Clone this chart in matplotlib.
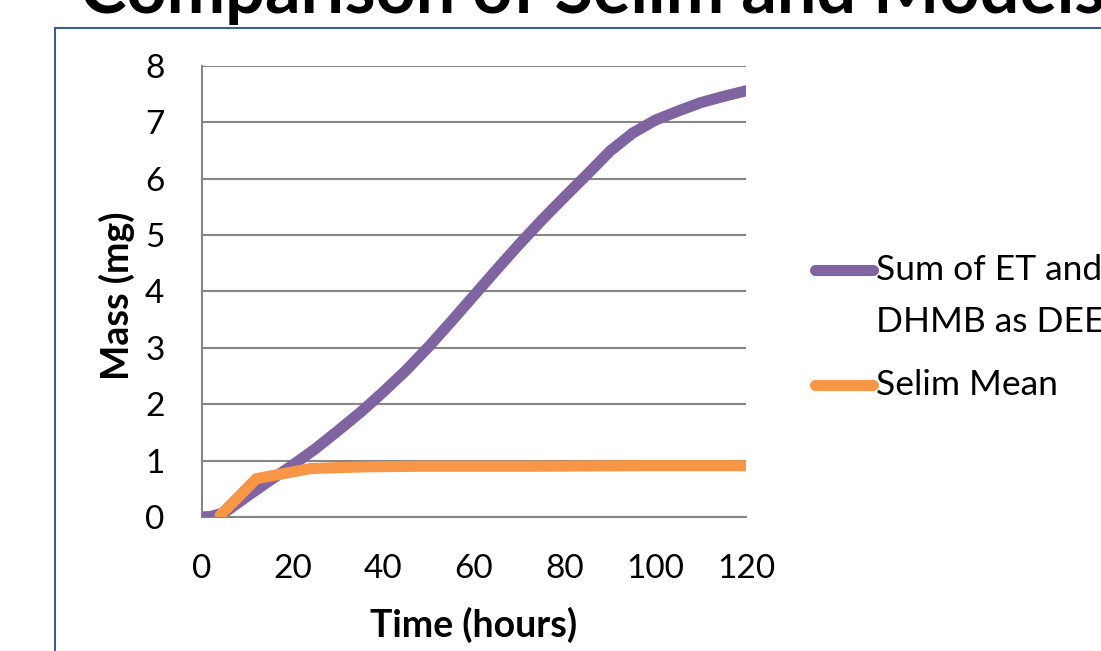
import matplotlib.pyplot as plt
from matplotlib.lines import Line2D

# model output: ET + DHMB expressed as DEET (mg), every 5 hours
hours_model = [0, 2, 5, 10, 15, 20, 25, 30, 35, 40, 45, 50, 55, 60,
               65, 70, 75, 80, 85, 90, 95, 100, 105, 110, 115, 120]
mass_model = [0.0, 0.01, 0.08, 0.37, 0.65, 0.92, 1.21, 1.53, 1.86, 2.22,
              2.6, 3.02, 3.47, 3.93, 4.39, 4.84, 5.27, 5.68, 6.08, 6.49,
              6.81, 7.04, 7.2, 7.35, 7.46, 7.56]

# Selim measured mean (mg)
hours_selim = [4, 12, 24, 36, 48, 72, 96, 120]
mass_selim = [0.03, 0.68, 0.86, 0.89, 0.9, 0.9, 0.91, 0.91]

x_ticks = [0, 20, 40, 60, 80, 100, 120]
y_ticks = [0, 1, 2, 3, 4, 5, 6, 7, 8]

label_model = "Sum of ET and\nDHMB as DEET"
label_selim = "Selim Mean"

purple = "#8064A2"
orange = "#F79646"
grid_gray = "#868686"

plt.rcParams['font.family'] = ['Lato', 'DejaVu Sans']

fig = plt.figure(figsize=(11.01, 6.51), dpi=100)
ax = fig.add_axes([0.18347, 0.20584, 0.49410, 0.69278])

ax.plot(hours_model, mass_model, color=purple, lw=8, solid_capstyle='round',
        solid_joinstyle='round', zorder=3)
ax.plot(hours_selim, mass_selim, color=orange, lw=8, solid_capstyle='round',
        solid_joinstyle='round', zorder=4)

ax.set_xlim(0, 120)
ax.set_ylim(0, 8)
ax.set_xticks(x_ticks)
ax.set_yticks(y_ticks)
ax.tick_params(axis='both', length=0, labelsize=24)
ax.tick_params(axis='y', pad=27)
ax.tick_params(axis='x', pad=27)

ax.grid(axis='y', color=grid_gray, lw=1.5)
ax.set_axisbelow(True)
for side in ['top', 'right']:
    ax.spines[side].set_visible(False)
for side in ['left', 'bottom']:
    ax.spines[side].set_color(grid_gray)
    ax.spines[side].set_linewidth(1.5)

ax.set_xlabel("Time (hours)", fontsize=27, fontweight='bold', va='center')
ax.xaxis.set_label_coords(0.5, -0.2395)
ax.set_ylabel("Mass (mg)", fontsize=27, fontweight='bold', va='center')
ax.yaxis.set_label_coords(-0.156, 0.49)

# legend drawn by hand so the swatch sits on the first text line
for y, col in [(0.5477, purple), (0.2927, orange)]:
    ax.add_line(Line2D([1.127, 1.233], [y, y], transform=ax.transAxes,
                       color=col, lw=8, solid_capstyle='round', clip_on=False))
ax.text(1.239, 0.5477 + 0.035, label_model, transform=ax.transAxes,
        fontsize=25.5, ha='left', va='top', linespacing=1.75)
ax.text(1.239, 0.2927, label_selim, transform=ax.transAxes,
        fontsize=25.5, ha='left', va='center')

# chart frame
frame = "#3A5F8F"
fig.add_artist(Line2D([55 / 1101, 55 / 1101], [1 - 28 / 651, 0],
                      color=frame, lw=1.5))
fig.add_artist(Line2D([55 / 1101, 1], [1 - 28 / 651, 1 - 28 / 651],
                      color=frame, lw=1.5))

fig.text(80 / 1101, 1 - 13 / 651, "Comparison of Selim and Models",
         fontsize=50.5, fontweight='bold', ha='left', va='baseline')

fig.savefig("out.png", dpi=100, facecolor='white')
